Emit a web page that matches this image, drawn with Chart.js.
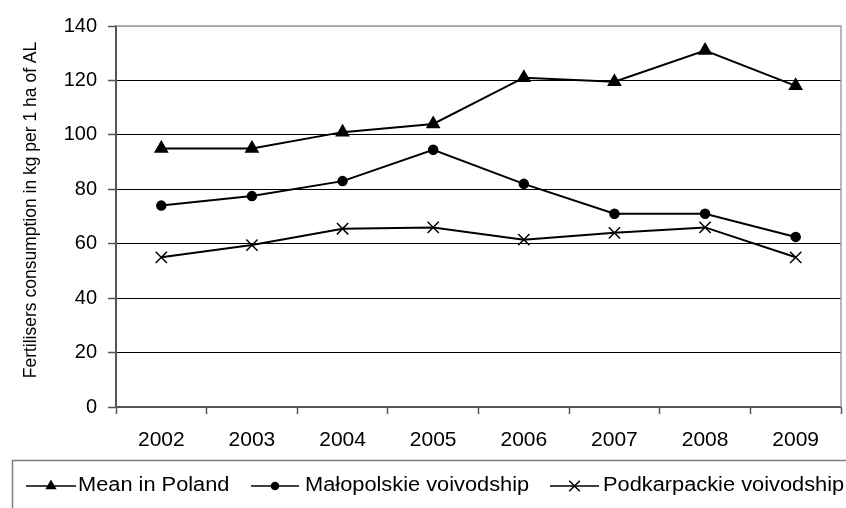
<!DOCTYPE html>
<html>
<head>
<meta charset="utf-8">
<script src="https://cdn.jsdelivr.net/npm/chart.js@4/dist/chart.umd.min.js"></script>
<style>
  html, body { margin: 0; padding: 0; background: #fff; }
  #wrap { width: 846px; height: 508px; }
</style>
</head>
<body>
<div id="wrap"><canvas id="c" width="846" height="508"></canvas></div>
<script>
const years = ['2002', '2003', '2004', '2005', '2006', '2007', '2008', '2009'];
const meanPoland = [95, 95, 101, 104, 121, 119.5, 131, 118];
const malopolskie = [74, 77.5, 83, 94.5, 82, 71, 71, 62.5];
const podkarpackie = [55, 59.5, 65.5, 66, 61.5, 64, 66, 55];
const seriesNames = ['Mean in Poland', 'Małopolskie voivodship', 'Podkarpackie voivodship'];
const yTitle = 'Fertilisers consumption in kg per 1 ha of AL';

const FONT = '"Liberation Sans", Arial, sans-serif';

// Frame lines (top and right), rotated axis title and the boxed legend
const framePlugin = {
  id: 'frame',
  afterDraw(chart) {
    const { ctx, chartArea: a } = chart;
    ctx.save();
    ctx.strokeStyle = '#a0a0a0';
    ctx.lineWidth = 1.5;
    ctx.beginPath();
    ctx.moveTo(a.left, a.top);
    ctx.lineTo(a.right, a.top);
    ctx.lineTo(a.right, a.bottom);
    ctx.stroke();

    // y axis title
    ctx.save();
    ctx.translate(31, 210);
    ctx.rotate(-Math.PI / 2);
    ctx.font = '17.5px ' + FONT;
    ctx.fillStyle = '#000';
    ctx.textAlign = 'center';
    ctx.textBaseline = 'middle';
    ctx.fillText(yTitle, 0, 0);
    ctx.restore();

    // legend box
    ctx.strokeStyle = '#808080';
    ctx.lineWidth = 1.5;
    ctx.strokeRect(12.5, 460.5, 850, 60);

    const items = [
      { x0: 26, x1: 76, tx: 78, r: 5 },
      { x0: 251, x1: 299, tx: 305, r: 3.5 },
      { x0: 550, x1: 599, tx: 603, r: 7.5 }
    ];
    const yL = 486;
    chart.data.datasets.forEach((ds, i) => {
      const it = items[i];
      ctx.strokeStyle = '#000';
      ctx.fillStyle = '#000';
      ctx.lineWidth = 1.5;
      ctx.beginPath();
      ctx.moveTo(it.x0, yL);
      ctx.lineTo(it.x1, yL);
      ctx.stroke();
      const mid = (it.x0 + it.x1) / 2;
      Chart.helpers.drawPoint(ctx, {
        pointStyle: ds.pointStyle,
        radius: it.r,
        rotation: 0,
        borderWidth: 1.5
      }, mid, yL);
      ctx.save();
      ctx.translate(it.tx, yL - 1);
      ctx.scale(1.09, 1);
      ctx.font = '20px ' + FONT;
      ctx.textBaseline = 'middle';
      ctx.fillStyle = '#000';
      ctx.fillText(ds.label, 0, 0);
      ctx.restore();
    });
    ctx.restore();
  }
};

new Chart(document.getElementById('c'), {
  type: 'line',
  data: {
    labels: years,
    datasets: [
      { label: seriesNames[0], data: meanPoland, pointStyle: 'triangle', pointRadius: 7 },
      { label: seriesNames[1], data: malopolskie, pointStyle: 'circle', pointRadius: 4.5 },
      { label: seriesNames[2], data: podkarpackie, pointStyle: 'crossRot', pointRadius: 8 }
    ].map(d => Object.assign({
      borderColor: '#000',
      backgroundColor: '#000',
      pointBackgroundColor: '#000',
      pointBorderColor: '#000',
      pointBorderWidth: 1.5,
      borderWidth: 2,
      tension: 0
    }, d))
  },
  options: {
    responsive: false,
    animation: false,
    events: [],
    layout: { autoPadding: false, padding: { top: 26, right: 5, bottom: 48, left: 0 } },
    plugins: { legend: { display: false }, tooltip: { enabled: false } },
    scales: {
      x: {
        offset: true,
        grid: {
          offset: true,
          drawOnChartArea: false,
          drawTicks: true,
          tickLength: 7,
          tickColor: '#555',
          tickWidth: 1.5
        },
        border: { color: '#555', width: 2 },
        ticks: { color: '#000', font: { size: 21, family: FONT }, padding: 14 },
        afterFit(s) { s.height = 53; }
      },
      y: {
        min: 0,
        max: 140,
        ticks: { stepSize: 20, color: '#000', font: { size: 20, family: FONT }, padding: 11 },
        grid: {
          color: c => (c.tick && c.tick.value === 140) ? '#a0a0a0' : '#000',
          lineWidth: 1,
          tickLength: 8,
          tickColor: '#555',
          tickWidth: 1.5
        },
        border: { color: '#555', width: 2 },
        afterFit(s) { s.width = 116; }
      }
    }
  },
  plugins: [framePlugin]
});
</script>
</body>
</html>
